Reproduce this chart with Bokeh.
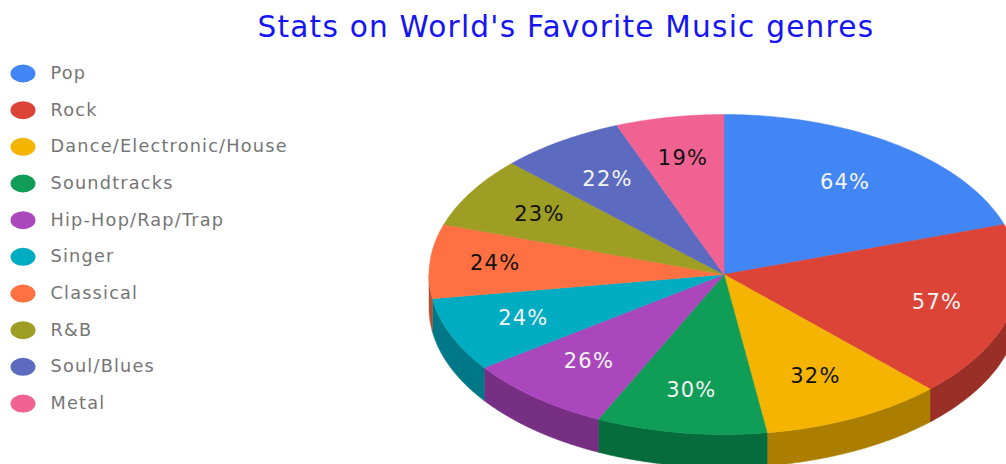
import numpy as np
from bokeh.embed import file_html
from bokeh.models import ColumnDataSource, Range1d
from bokeh.plotting import figure
from bokeh.resources import INLINE
from bokeh.core.properties import value

title_text = "Stats on World's Favorite Music genres"
genres = ["Pop", "Rock", "Dance/Electronic/House", "Soundtracks", "Hip-Hop/Rap/Trap",
          "Singer", "Classical", "R&B", "Soul/Blues", "Metal"]
percents = [64, 57, 32, 30, 26, 24, 24, 23, 22, 19]
top_colors = ["#4285F4", "#DB4437", "#F4B400", "#0F9D58", "#AB47BC",
              "#00ACC1", "#FF7043", "#9E9D24", "#5C6BC0", "#F06292"]
side_colors = ["#2E5DAB", "#992F27", "#AB7E00", "#066C3C", "#772F83",
               "#007887", "#B24E2F", "#6E6E19", "#404B86", "#A84566"]
label_colors = ["#F4F4F4", "#F4F4F4", "#111111", "#F4F4F4", "#F4F4F4",
                "#F4F4F4", "#111111", "#111111", "#F4F4F4", "#111111"]

# Pie geometry in page pixels
CX, CY, RX, RY, DEPTH = 723.5, 274.0, 295.0, 160.0, 33.0
LABEL_R = 0.73
# Hand tweaks to label placement, in pixels
label_dx = [-7, 2, -6, -3, 1, -3, -16, -2, 1, -3]
label_dy = [2, 0, -3, 0, -3, -1, -2, 0, 2, -2]


def rim(a0, a1, n=80):
    """Points along the ellipse; angles run clockwise from twelve o'clock."""
    t = np.radians(np.linspace(a0, a1, n))
    return CX + RX * np.sin(t), CY - RY * np.cos(t)


p = figure(width=1006, height=464, output_backend="svg", toolbar_location=None,
           x_range=Range1d(0, 1006), y_range=Range1d(464, 0),
           min_border=0, outline_line_color=None, background_fill_color="white")
p.axis.visible = False
p.grid.visible = False
# Wider tracking for every text on the page
p.styles = {"letter-spacing": "1.2px"}

edges = np.concatenate([[0], np.cumsum(percents)]) / sum(percents) * 360.0
starts, ends = edges[:-1], edges[1:]

# Extruded rim: only the part on the front half of the ellipse shows
wx, wy, wc = [], [], []
for a0, a1, c in zip(starts, ends, side_colors):
    lo, hi = max(a0, 90.0), min(a1, 270.0)
    if hi > lo:
        x, y = rim(lo, hi)
        wx.append(np.concatenate([x, x[::-1]]))
        wy.append(np.concatenate([y, y[::-1] + DEPTH]))
        wc.append(c)
p.patches(wx, wy, fill_color=wc, line_color=wc, line_width=0.5)

# Top face
sx, sy = [], []
for a0, a1 in zip(starts, ends):
    x, y = rim(a0, a1)
    sx.append(np.concatenate([[CX], x]))
    sy.append(np.concatenate([[CY], y]))
p.patches(sx, sy, fill_color=top_colors, line_color=top_colors, line_width=0.5)

# Percentage labels at each slice's middle angle
mid = np.radians((starts + ends) / 2)
labels = ColumnDataSource(dict(
    x=CX + LABEL_R * RX * np.sin(mid) + np.array(label_dx),
    y=CY - LABEL_R * RY * np.cos(mid) + np.array(label_dy),
    text=[f"{v}%" for v in percents],
    color=label_colors,
))
p.text("x", "y", text="text", source=labels, text_color="color",
       text_font=value("DejaVu Sans"), text_font_size="21px",
       text_align="center", text_baseline="middle")

# Legend column
legend_y = [73 + 36.67 * i for i in range(len(genres))]
p.ellipse([22.5] * len(genres), legend_y, width=25, height=18,
          fill_color=top_colors, line_color=None)
p.text([50] * len(genres), [y - 0.5 for y in legend_y], text=genres, text_color="#757575",
       text_font=value("DejaVu Sans"), text_font_size="17.7px",
       text_align="left", text_baseline="middle")

# Heading
p.text([257], [26], text=[title_text], text_color="#1414F5",
       text_font=value("DejaVu Sans"), text_font_size="29.6px",
       text_align="left", text_baseline="middle")

open("out.html", "w").write(file_html(p, INLINE))
